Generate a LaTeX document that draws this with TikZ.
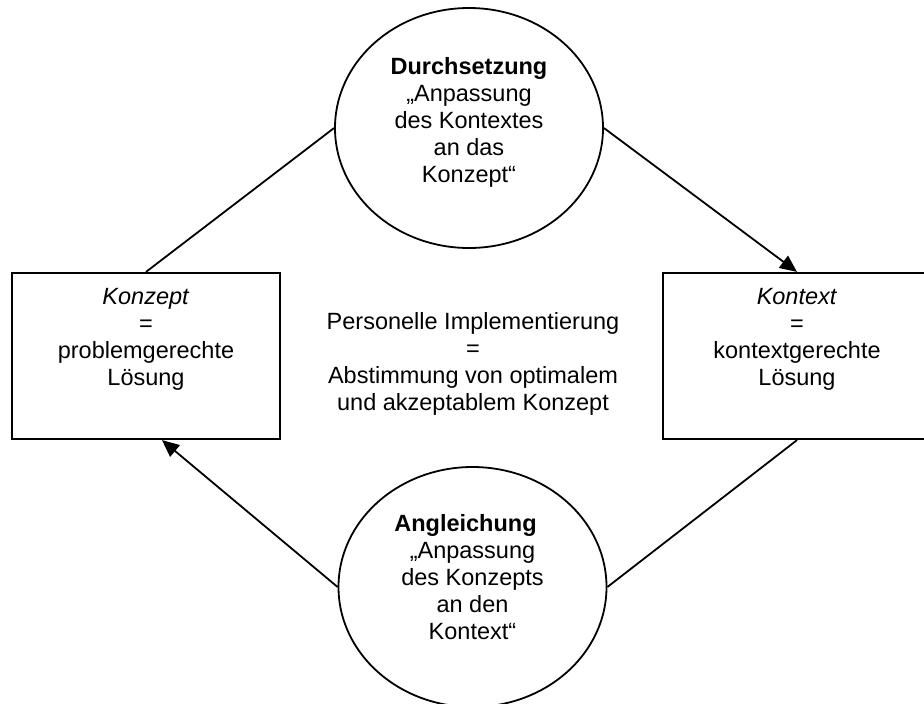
\documentclass[tikz,border=0pt]{standalone}
\usepackage{fontspec}
\setmainfont{Liberation Sans}
\usetikzlibrary{shapes.geometric,arrows.meta,calc}
\tikzset{
  txt/.style={align=center,font=\fontsize{23.5}{27}\selectfont,inner sep=0pt},
  box/.style={draw,line width=2.2pt,minimum width=268pt,minimum height=166pt,inner sep=0pt},
  bubble/.style={draw,ellipse,line width=1.8pt,minimum width=268pt,minimum height=240pt,inner sep=0pt},
  link/.style={line width=1.8pt},
  arr/.style={link,-{Triangle[length=17pt,width=15pt]}}
}
\begin{document}
\begin{tikzpicture}[x=1pt,y=-1pt]
  \useasboundingbox (0,0) rectangle (924,704);
  \clip (0,0) rectangle (924,704);

  % the two solutions
  \node[box] (boxL) at (146,356) {};
  \node[box] (boxR) at (797,356) {};
  \node[txt] (txtL) at (146,339) {\textit{Konzept}\\=\\problemgerechte\\Lösung};
  \node[txt] (txtR) at (797,339) {\textit{Kontext}\\=\\kontextgerechte\\Lösung};

  % the two ways of adjustment
  \node[bubble] (ellT) at (469,128) {};
  \node[bubble] (ellB) at (472.5,587) {};
  \node[txt] (txtT) at (469,122)
    {\textbf{Durchsetzung}\\„Anpassung\\des Kontextes\\an das\\Konzept“};
  \node[txt] (txtB) at (472.5,577.5)
    {\textbf{Angleichung}\hspace*{14pt}\\„Anpassung\\des Konzepts\\an den\\Kontext“};

  % centre statement
  \node[txt] (txtC) at (473,364)
    {Personelle Implementierung\\=\\Abstimmung von optimalem\\und akzeptablem Konzept};

  % connectors
  \draw[link] (boxL.north) -- (ellT.west);
  \draw[arr]  (ellT.east) -- (boxR.north);
  \draw[link] (ellB.east) -- (boxR.south);
  \draw[arr]  (ellB.west) -- ($(boxL.south)+(16,0)$);
\end{tikzpicture}
\end{document}
